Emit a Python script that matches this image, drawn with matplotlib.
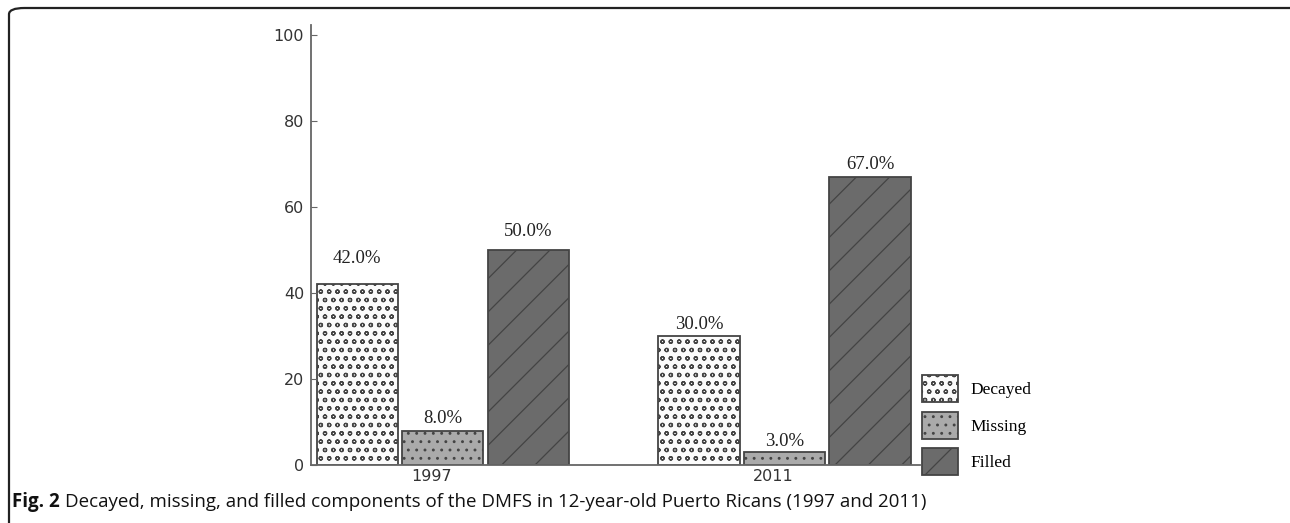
import matplotlib
matplotlib.use("Agg")
import matplotlib.pyplot as plt
from matplotlib.patches import FancyBboxPatch, Patch

# DMFS components, percent of total, 12-year-olds
years = ['1997', '2011']
components = ['Decayed', 'Missing', 'Filled']
decayed = [42.0, 30.0]
missing = [8.0, 3.0]
filled = [50.0, 67.0]

fills = ['#fbfbfb', '#aaaaaa', '#6b6b6b']
hatches = ['oo', '..', '/']
edge = '#444444'
# how far each value label sits above its bar (data units)
label_lift = [[4.0, 0.9, 2.2], [0.6, 0.4, 0.9]]

plt.rcParams['hatch.linewidth'] = 0.9

fig = plt.figure(figsize=(12.9, 5.23), dpi=100)
ax = fig.add_axes([311/1290, 1 - 465/523, (920 - 311)/1290, 440/523])

series = [decayed, missing, filled]
for g in range(len(years)):
    for k, vals in enumerate(series):
        x = g*4 + k
        ax.bar(x, vals[g], width=0.95, color=fills[k], edgecolor=edge,
               hatch=hatches[k], linewidth=1.3)
        ax.text(x, vals[g] + label_lift[g][k], f'{vals[g]:.1f}%', ha='center', va='bottom',
                fontsize=13.5, family='Liberation Serif', color='#222222')

ax.set_xlim(-0.54, 6.585)
ax.set_ylim(0, 102.3)
ax.set_yticks([0, 20, 40, 60, 80, 100])
ax.set_xticks([0.87, 4.87])
ax.set_xticklabels(years)

for s in ['top', 'right']:
    ax.spines[s].set_visible(False)
for s in ['left', 'bottom']:
    ax.spines[s].set_color('#666666')
    ax.spines[s].set_linewidth(1.3)
ax.tick_params(axis='y', direction='in', length=4, color='#666666', pad=5,
               labelsize=11.5, labelcolor='#333333')
ax.tick_params(axis='x', length=0, pad=3, labelsize=11.5, labelcolor='#333333')

handles = [Patch(facecolor=fills[k], edgecolor=edge, hatch=hatches[k], linewidth=1.3)
           for k in range(3)]
fig.legend(handles, components, loc='upper left', bbox_to_anchor=(922/1290, 1 - 375/523),
           frameon=False, borderpad=0, borderaxespad=0, handlelength=2.07, handleheight=2.0,
           handletextpad=0.7, labelspacing=0.57,
           prop={'family': 'Liberation Serif', 'size': 12.5})

# rounded frame around the figure panel
frame = FancyBboxPatch((9/1290, -0.2), 1.1, 1 - 8/523 + 0.2,
                       boxstyle='round,pad=0,rounding_size=0.012',
                       transform=fig.transFigure, fill=False,
                       edgecolor='#222222', linewidth=1.6, clip_on=False)
fig.patches.append(frame)

# caption
r = fig.canvas.get_renderer()
cap_y = 1 - 502/523
t1 = fig.text(12/1290, cap_y, 'Fig. 2', fontsize=13.5, fontweight='bold',
              family='Open Sans', va='center', color='#111111')
bb = t1.get_window_extent(renderer=r)
fig.text((bb.x1 + 5)/1290, cap_y,
         'Decayed, missing, and filled components of the DMFS in 12-year-old Puerto Ricans (1997 and 2011)',
         fontsize=13.5, family='Open Sans', va='center', color='#111111')

fig.savefig('out.png', dpi=100)
